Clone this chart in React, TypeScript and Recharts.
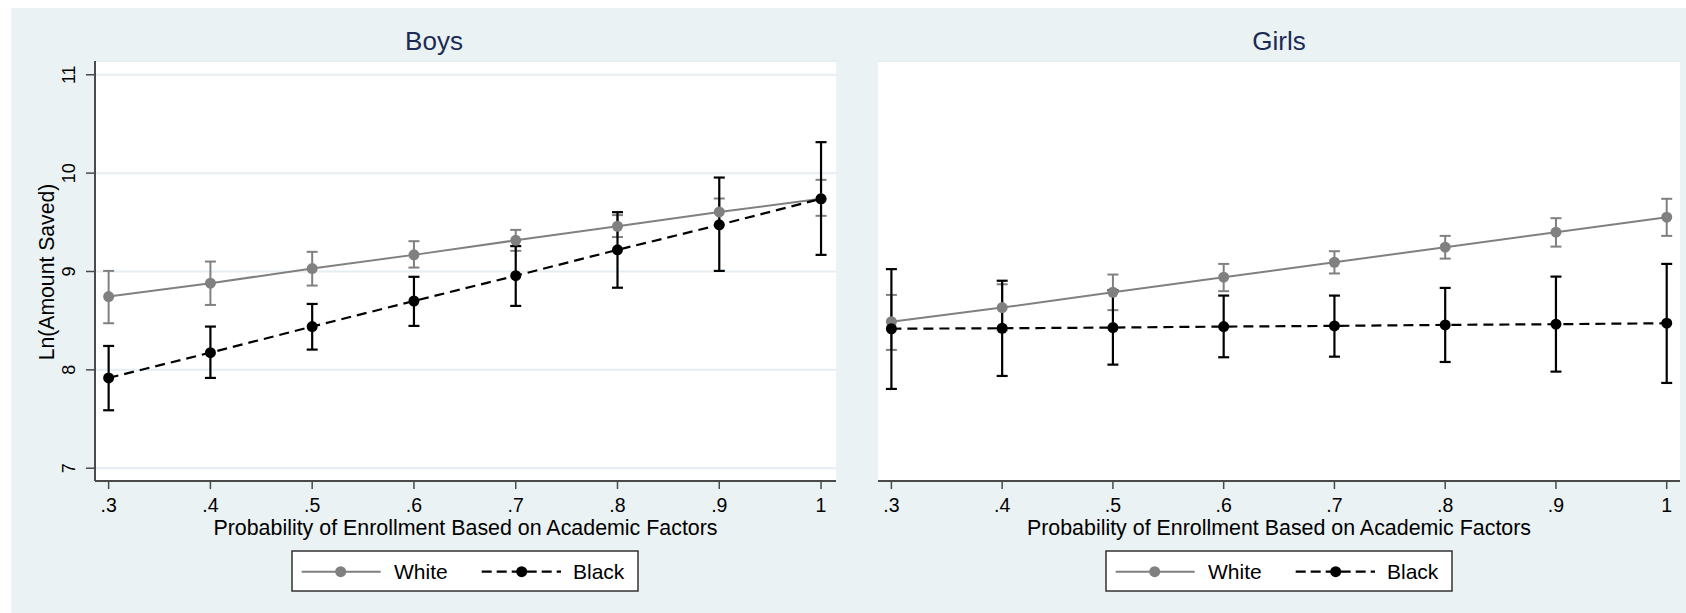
import React from 'react';
import { ComposedChart, Line, XAxis, YAxis, CartesianGrid, ErrorBar } from 'recharts';

// x positions and their labels
const probs = [0.3, 0.4, 0.5, 0.6, 0.7, 0.8, 0.9, 1.0];
const probLabels = ['.3', '.4', '.5', '.6', '.7', '.8', '.9', '1'];
const yTicks = [7, 8, 9, 10, 11];

// Boys: predicted Ln(amount saved) with CI bounds
const boysWhite = [8.745, 8.881, 9.03, 9.169, 9.317, 9.46, 9.606, 9.739];
const boysWhiteLo = [8.474, 8.66, 8.857, 9.04, 9.21, 9.35, 9.47, 9.566];
const boysWhiteHi = [9.006, 9.101, 9.2, 9.308, 9.423, 9.573, 9.742, 9.932];
const boysBlack = [7.918, 8.175, 8.44, 8.7, 8.957, 9.22, 9.474, 9.739];
const boysBlackLo = [7.589, 7.918, 8.206, 8.447, 8.65, 8.835, 9.006, 9.169];
const boysBlackHi = [8.243, 8.44, 8.67, 8.946, 9.258, 9.603, 9.955, 10.315];

// Girls
const girlsWhite = [8.49, 8.633, 8.789, 8.942, 9.094, 9.247, 9.4, 9.552];
const girlsWhiteLo = [8.203, 8.4, 8.607, 8.8, 8.98, 9.131, 9.253, 9.362];
const girlsWhiteHi = [8.762, 8.87, 8.969, 9.077, 9.206, 9.362, 9.542, 9.739];
const girlsBlack = [8.418, 8.423, 8.43, 8.44, 8.447, 8.457, 8.464, 8.474];
const girlsBlackLo = [7.806, 7.938, 8.053, 8.128, 8.134, 8.08, 7.982, 7.867];
const girlsBlackHi = [9.024, 8.906, 8.81, 8.755, 8.755, 8.833, 8.948, 9.077];

const FONT = '"Liberation Sans", Arial, Helvetica, sans-serif';
const BG = '#eaf2f3';
const GRID = '#e6eef1';
const AXIS = '#4a4a4a';
const GRAY = '#808080';
const NAVY = '#1c2b55';

const buildRows = (wm: number[], wl: number[], wh: number[], bm: number[], bl: number[], bh: number[]) =>
  probs.map((x, i) => ({
    x,
    white: wm[i],
    whiteErr: [wm[i] - wl[i], wh[i] - wm[i]],
    black: bm[i],
    blackErr: [bm[i] - bl[i], bh[i] - bm[i]],
  }));

const boysRows = buildRows(boysWhite, boysWhiteLo, boysWhiteHi, boysBlack, boysBlackLo, boysBlackHi);
const girlsRows = buildRows(girlsWhite, girlsWhiteLo, girlsWhiteHi, girlsBlack, girlsBlackLo, girlsBlackHi);

const YTick = ({ x, y, payload }: any) => {
  const bx = x - 10.5;
  return (
    <text x={bx} y={y} transform={`rotate(-90 ${bx} ${y})`} textAnchor="middle" fontSize={18} fontFamily={FONT} fill="#000">
      {payload.value}
    </text>
  );
};

const xTitle = (props: any) => {
  const vb = props.viewBox;
  return (
    <text x={vb.x + vb.width / 2} y={vb.y + 54} textAnchor="middle" fontSize={21.4} fontFamily={FONT} fill="#000">
      Probability of Enrollment Based on Academic Factors
    </text>
  );
};

const yTitle = (props: any) => {
  const vb = props.viewBox;
  const cx = vb.x + 54;
  const cy = 272;
  return (
    <text x={cx} y={cy} transform={`rotate(-90 ${cx} ${cy})`} textAnchor="middle" fontSize={21.2} fontFamily={FONT} fill="#000">
      Ln(Amount Saved)
    </text>
  );
};

interface PanelProps {
  rows: any[];
  xDomain: [number, number];
  showY: boolean;
  left: number;
}

const Panel: React.FC<PanelProps> = ({ rows, xDomain, showY, left }) => (
  <div style={{ position: 'absolute', left, top: 0 }}>
    <ComposedChart
      width={843}
      height={613}
      data={rows}
      margin={showY ? { top: 61, right: 7, bottom: 72, left: 0 } : { top: 61, right: 6, bottom: 72, left: 35 }}
    >
      <CartesianGrid vertical={false} fill="#ffffff" stroke={GRID} strokeWidth={2} />
      <XAxis
        dataKey="x"
        type="number"
        domain={xDomain}
        allowDataOverflow
        ticks={probs}
        interval={0}
        tickFormatter={(v: number) => probLabels[probs.indexOf(v)]}
        height={60}
        tickSize={8}
        tickMargin={9}
        axisLine={{ stroke: AXIS, strokeWidth: 2 }}
        tickLine={{ stroke: AXIS, strokeWidth: 1.5 }}
        tick={{ fontSize: 19.5, fontFamily: FONT, fill: '#000' }}
        label={xTitle}
      />
      {showY ? (
        <YAxis
          type="number"
          domain={[6.87, 11.14]}
          allowDataOverflow
          ticks={yTicks}
          interval={0}
          width={95}
          tickSize={9}
          tickMargin={0}
          axisLine={{ stroke: AXIS, strokeWidth: 2 }}
          tickLine={{ stroke: AXIS, strokeWidth: 1.5 }}
          tick={<YTick />}
          label={yTitle}
        />
      ) : (
        <YAxis
          type="number"
          domain={[6.87, 11.14]}
          allowDataOverflow
          ticks={yTicks}
          interval={0}
          width={0}
          axisLine={false}
          tickLine={false}
          tick={false}
        />
      )}
      <Line
        dataKey="white"
        type="linear"
        stroke={GRAY}
        strokeWidth={2}
        dot={{ r: 5.5, fill: GRAY, stroke: 'none' }}
        activeDot={false}
        isAnimationActive={false}
      >
        <ErrorBar dataKey="whiteErr" direction="y" width={5.5} stroke={GRAY} strokeWidth={2} />
      </Line>
      <Line
        dataKey="black"
        type="linear"
        stroke="#000"
        strokeWidth={2.2}
        strokeDasharray="10 6"
        dot={{ r: 5.5, fill: '#000', stroke: 'none' }}
        activeDot={false}
        isAnimationActive={false}
      >
        <ErrorBar dataKey="blackErr" direction="y" width={5.5} stroke="#000" strokeWidth={2.2} />
      </Line>
    </ComposedChart>
  </div>
);

const LegendBox = ({ x }: { x: number }) => (
  <g transform={`translate(${x},551)`}>
    <rect x={0} y={0} width={346} height={40} fill="#fff" stroke="#333" strokeWidth={1.5} />
    <line x1={9.7} x2={88.7} y1={20.7} y2={20.7} stroke={GRAY} strokeWidth={2} />
    <circle cx={48.7} cy={20.7} r={5.5} fill={GRAY} />
    <text x={102} y={27.5} fontSize={21} fontFamily={FONT} fill="#000">White</text>
    <line x1={189.7} x2={269} y1={20.7} y2={20.7} stroke="#000" strokeWidth={2.2} strokeDasharray="10 5" />
    <circle cx={229.7} cy={20.7} r={5.5} fill="#000" />
    <text x={281} y={27.5} fontSize={21} fontFamily={FONT} fill="#000">Black</text>
  </g>
);

export default function App() {
  return (
    <div style={{ position: 'relative', width: 1686, height: 613, background: '#fff', overflow: 'hidden' }}>
      <style>{`body{margin:0}`}</style>
      <div style={{ position: 'absolute', left: 11, top: 8, width: 1675, height: 605, background: BG }} />
      <Panel rows={boysRows} xDomain={[0.2866, 1.0147]} showY left={0} />
      <Panel rows={girlsRows} xDomain={[0.2879, 1.012]} showY={false} left={843} />
      <svg width={1686} height={613} style={{ position: 'absolute', left: 0, top: 0, pointerEvents: 'none' }}>
        <text x={434} y={50} textAnchor="middle" fontSize={26} fontFamily={FONT} fill={NAVY}>Boys</text>
        <text x={1279} y={50} textAnchor="middle" fontSize={26} fontFamily={FONT} fill={NAVY}>Girls</text>
        <LegendBox x={292} />
        <LegendBox x={1106} />
      </svg>
    </div>
  );
}
